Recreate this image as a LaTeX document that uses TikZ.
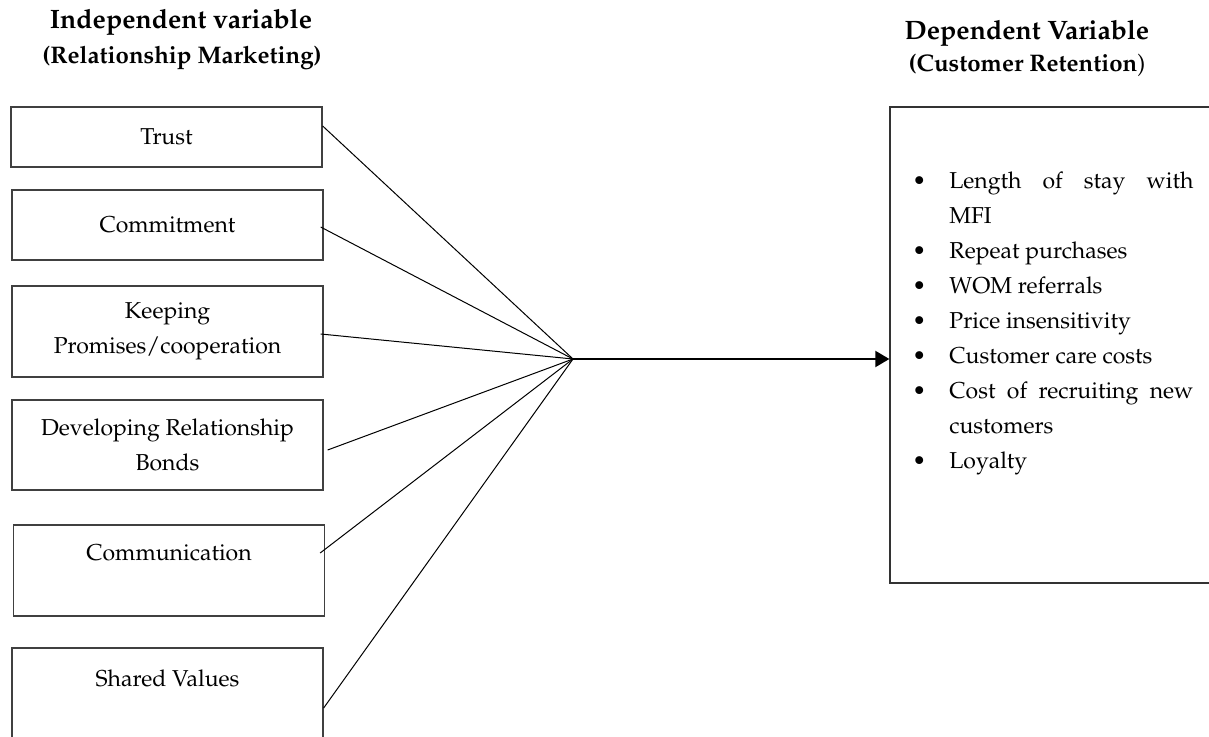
\documentclass[tikz,border=0pt]{standalone}
\usepackage[T1]{fontenc}
\usepackage{mathpazo}
\usetikzlibrary{arrows.meta,calc}
\begin{document}
\begin{tikzpicture}[x=0.5pt,y=-0.5pt,
  body/.style={font=\fontsize{11.5}{17.5}\selectfont},
  varbox/.style={body, draw=black!75, line width=0.65pt, minimum width=155.5pt, inner sep=0pt, align=center},
  head/.style={font=\fontsize{13.3}{16}\selectfont\bfseries, inner sep=0pt},
  subhead/.style={font=\fontsize{12}{14}\selectfont, inner sep=0pt},
  link/.style={line width=0.5pt, black},
  mainarrow/.style={line width=1pt, black, -{Triangle[length=7pt,width=8pt]}}
]
\useasboundingbox (0,0) rectangle (1209,737);

% headings
\node[head] (ihead) at (181,22) {Independent variable};
\node[subhead] (isub) at (182,58) {\textbf{(Relationship Marketing)}};
\node[head] (dhead) at (1027,33) {Dependent Variable};
\node[subhead] (dsub) at (1027,65) {\textbf{(Customer Retention}{)}};

% independent variable boxes
\node[varbox, minimum height=30pt] (trust) at (166.5,137) {Trust};
\node[varbox, minimum height=35pt] (commit) at (167.5,225) {Commitment};
\node[varbox, minimum height=45.5pt] (keep) at (167.5,331.5) {Keeping\\Promises/cooperation};
\node[varbox, minimum height=45pt] (bonds) at (167.5,445) {Developing Relationship\\Bonds};
\node[varbox, minimum height=45.5pt] (comm) at (169,570.5) {Communication\\\mbox{}};
\node[varbox, minimum height=48pt] (shared) at (167.5,696) {Shared Values\\\mbox{}};

% dependent variable box
\node[draw=black!80, line width=0.65pt, minimum width=175pt, minimum height=238pt, inner sep=0pt] (dep) at (1065,345) {};
\node[body, anchor=base west, inner sep=0pt] (list) at (912,189) {%
\begin{tabular}[t]{@{}l@{}l@{}}
\makebox[18.5pt][l]{\textbullet} & \makebox[122pt][s]{Length of stay with}\\
 & MFI\\
\textbullet & Repeat purchases\\
\textbullet & WOM referrals\\
\textbullet & Price insensitivity\\
\textbullet & Customer care costs\\
\textbullet & \makebox[122pt][s]{Cost of recruiting new}\\
 & customers\\
\textbullet & Loyalty
\end{tabular}};

% hub and connectors
\coordinate (hub) at (573,359);
\draw[link] ([yshift=5.5pt]trust.east) -- (hub);
\draw[link] ([xshift=-1.5pt,yshift=-1pt]commit.east) -- (hub);
\draw[link] ([xshift=-1.5pt,yshift=-1.25pt]keep.east) -- (hub);
\draw[link] ([xshift=2pt,yshift=-2.5pt]bonds.east) -- (hub);
\draw[link] ([xshift=-2.5pt,yshift=8.75pt]comm.east) -- (hub);
\draw[link] ([yshift=-6pt]shared.east) -- (hub);
\draw[mainarrow] (hub) -- (hub -| dep.west);
\end{tikzpicture}
\end{document}
